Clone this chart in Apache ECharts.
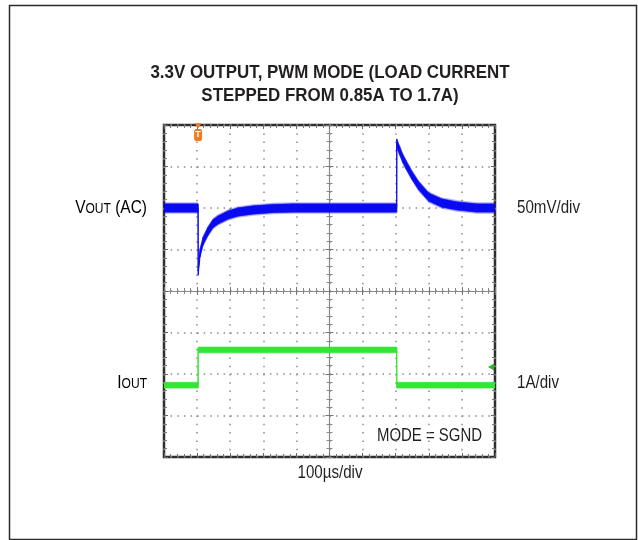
<!DOCTYPE html>
<html>
<head>
<meta charset="utf-8">
<script src="https://cdn.jsdelivr.net/npm/echarts@6/dist/echarts.min.js"></script>
<style>
  html, body { margin: 0; padding: 0; background: #fff; }
  #chart { width: 638px; height: 540px; }
</style>
</head>
<body>
<div id="chart"></div>
<script>
  // 时间轴 (µs), 100µs/div
  const vTime = [0, 103, 103.3, 109, 118, 133, 148, 163, 194, 224, 269, 330, 390,
    703, 703.3, 712, 721, 730, 748, 769, 800, 839, 884, 945, 1000];
  // VOUT (AC), mV
  const vOut = [0, 0, -76, -54, -40, -28, -19, -14.5, -8.4, -4.8, -2.4, -0.6, 0,
    0, 78, 69, 60, 53, 40, 27, 13, 6, 2.5, 0, 0];
  // IOUT, A
  const iTime = [0, 103, 103.3, 703, 703.3, 1000];
  const iOut = [0.85, 0.85, 1.7, 1.7, 0.85, 0.85];
  const triggerTime = 103;

  const FONT = "'Liberation Sans', Arial, sans-serif";
  const TXT = '#231f20';
  const blue = '#0a0af0';
  const green = '#33e633';

  // 示波器余辉带 (每段一个多边形)
  function bandSeries(t, v, half, color, opacity, yIdx) {
    let segs = [];
    for (let i = 0; i < t.length - 1; i++) {
      segs.push([t[i], v[i], t[i + 1], v[i + 1]]);
    }
    return {
      type: 'custom', yAxisIndex: yIdx, silent: true, clip: true,
      data: segs,
      encode: { x: [0, 2], y: [1, 3] },
      renderItem: function (params, api) {
        let a = api.coord([api.value(0), api.value(1) + half]);
        let b = api.coord([api.value(2), api.value(3) + half]);
        let c = api.coord([api.value(2), api.value(3) - half]);
        let d = api.coord([api.value(0), api.value(1) - half]);
        return {
          type: 'polygon',
          shape: { points: [a, b, c, d] },
          style: { fill: color, stroke: opacity < 1 ? null : color, lineWidth: 0.6, opacity: opacity }
        };
      }
    };
  }

  const xBase = {
    type: 'value', min: 0, max: 1000, interval: 100,
    axisLine: { show: false, onZero: false },
    axisLabel: { show: false },
    axisTick: { show: true, inside: true, length: 4, lineStyle: { color: '#666' } },
    minorTick: { show: true, splitNumber: 5, length: 3, lineStyle: { color: '#777' } },
    splitLine: { show: false }
  };
  const yBase = {
    type: 'value', min: -300, max: 100, interval: 50,
    axisLine: { show: false, onZero: false },
    axisLabel: { show: false },
    axisTick: { show: true, inside: true, length: 4, lineStyle: { color: '#666' } },
    minorTick: { show: true, splitNumber: 5, length: 3, lineStyle: { color: '#777' } },
    splitLine: { show: false }
  };

  function label(x, y, text, align, sx, extra) {
    return Object.assign({
      type: 'text', x: x, y: y, scaleX: sx, silent: true,
      style: { text: text, fontFamily: FONT, fontSize: 18, fill: TXT, align: align, verticalAlign: 'middle' }
    }, extra || {});
  }
  const subRich = {
    a: { fontFamily: FONT, fontSize: 18, color: TXT },
    s: { fontFamily: FONT, fontSize: 14, color: TXT, padding: [3, 0, 0, 0] }
  };

  const chart = echarts.init(document.getElementById('chart'), null, { renderer: 'canvas' });
  chart.setOption({
    animation: false,
    backgroundColor: '#fff',
    grid: {
      left: 164, top: 125, width: 331, height: 332,
      show: true, borderColor: '#2e2e2e', borderWidth: 2.5, backgroundColor: '#fff'
    },
    xAxis: [
      Object.assign({}, xBase, {
        position: 'bottom',
        splitLine: { show: true, lineStyle: { color: '#8a8a8a', width: 1.5, type: [1.5, 6.8] } }
      }),
      Object.assign({}, xBase, { position: 'top' }),
      // 中心十字线
      Object.assign({}, xBase, {
        position: 'bottom', offset: -166,
        axisLine: { show: true, onZero: false, lineStyle: { color: '#8a8a8a', width: 1.2 } },
        axisTick: { show: true, inside: true, length: 4, lineStyle: { color: '#777' } },
        minorTick: { show: true, splitNumber: 5, length: 3, lineStyle: { color: '#888' } }
      }),
      Object.assign({}, xBase, {
        position: 'bottom', offset: -166,
        axisTick: { show: true, inside: false, length: 4, lineStyle: { color: '#777' } },
        minorTick: { show: true, splitNumber: 5, length: 3, lineStyle: { color: '#888' } }
      })
    ],
    yAxis: [
      Object.assign({}, yBase, {
        position: 'left',
        splitLine: { show: true, lineStyle: { color: '#8a8a8a', width: 1.5, type: [1.5, 5.12] } }
      }),
      { type: 'value', min: -0.88, max: 7.12, show: false, position: 'right' },
      Object.assign({}, yBase, { position: 'right' }),
      Object.assign({}, yBase, {
        position: 'left', offset: -165.5,
        axisLine: { show: true, onZero: false, lineStyle: { color: '#8a8a8a', width: 1.2 } },
        axisTick: { show: true, inside: true, length: 4, lineStyle: { color: '#777' } },
        minorTick: { show: true, splitNumber: 5, length: 3, lineStyle: { color: '#888' } }
      }),
      Object.assign({}, yBase, {
        position: 'left', offset: -165.5,
        axisTick: { show: true, inside: false, length: 4, lineStyle: { color: '#777' } },
        minorTick: { show: true, splitNumber: 5, length: 3, lineStyle: { color: '#888' } }
      })
    ],
    series: [
      bandSeries(vTime, vOut, 7, blue, 0.3, 0),
      bandSeries(vTime, vOut, 5, blue, 1, 0),
      { type: 'line', data: vTime.map((t, i) => [t, vOut[i]]), showSymbol: false, silent: true,
        lineStyle: { color: blue, width: 1 },
        markPoint: {
          silent: true,
          data: [
            { coord: [triggerTime, 99], symbol: 'triangle', symbolRotate: 180, symbolSize: [7, 5],
              itemStyle: { color: '#f07b1c' }, label: { show: false } },
            { coord: [triggerTime, 88], symbol: 'roundRect', symbolSize: [8, 12],
              itemStyle: { color: '#f07b1c' },
              label: { show: true, formatter: 'T', color: '#fff', fontSize: 9, fontWeight: 'bold',
                fontFamily: FONT } }
          ]
        } },
      bandSeries(iTime, iOut, 0.07, green, 1, 1),
      { type: 'line', yAxisIndex: 1, data: iTime.map((t, i) => [t, iOut[i]]), showSymbol: false,
        silent: true, lineStyle: { color: green, width: 1 },
        markPoint: {
          silent: true,
          data: [
            { coord: [988, 1.29], symbol: 'triangle', symbolRotate: 90, symbolSize: [7, 6],
              itemStyle: { color: '#2db52d' }, label: { show: false } }
          ]
        } }
    ],
    graphic: [
      { type: 'rect', silent: true, z: -1,
        shape: { x: 9.5, y: 5.5, width: 627, height: 534 },
        style: { fill: 'none', stroke: '#2b2b2b', lineWidth: 1.5 } },
      // 标题
      label(330, 73, '', 'center', 0.94,
        { style: { text: '3.3V OUTPUT, PWM MODE (LOAD CURRENT', fontFamily: FONT, fontSize: 18,
          fontWeight: 'bold', fill: TXT, align: 'center', verticalAlign: 'middle' } }),
      label(330, 96, '', 'center', 0.94,
        { style: { text: 'STEPPED FROM 0.85A TO 1.7A)', fontFamily: FONT, fontSize: 18,
          fontWeight: 'bold', fill: TXT, align: 'center', verticalAlign: 'middle' } }),
      label(147, 208, '', 'right', 0.86,
        { style: { text: '{a|V}{s|OUT}{a| (AC)}', align: 'right', verticalAlign: 'middle', rich: subRich } }),
      label(147, 383, '', 'right', 0.86,
        { style: { text: '{a|I}{s|OUT}', align: 'right', verticalAlign: 'middle', rich: subRich } }),
      label(517, 208, '50mV/div', 'left', 0.84),
      label(517, 383, '1A/div', 'left', 0.84),
      label(330, 473, '100µs/div', 'center', 0.84),
      label(482, 436, 'MODE = SGND', 'right', 0.83)
    ]
  });
</script>
</body>
</html>
